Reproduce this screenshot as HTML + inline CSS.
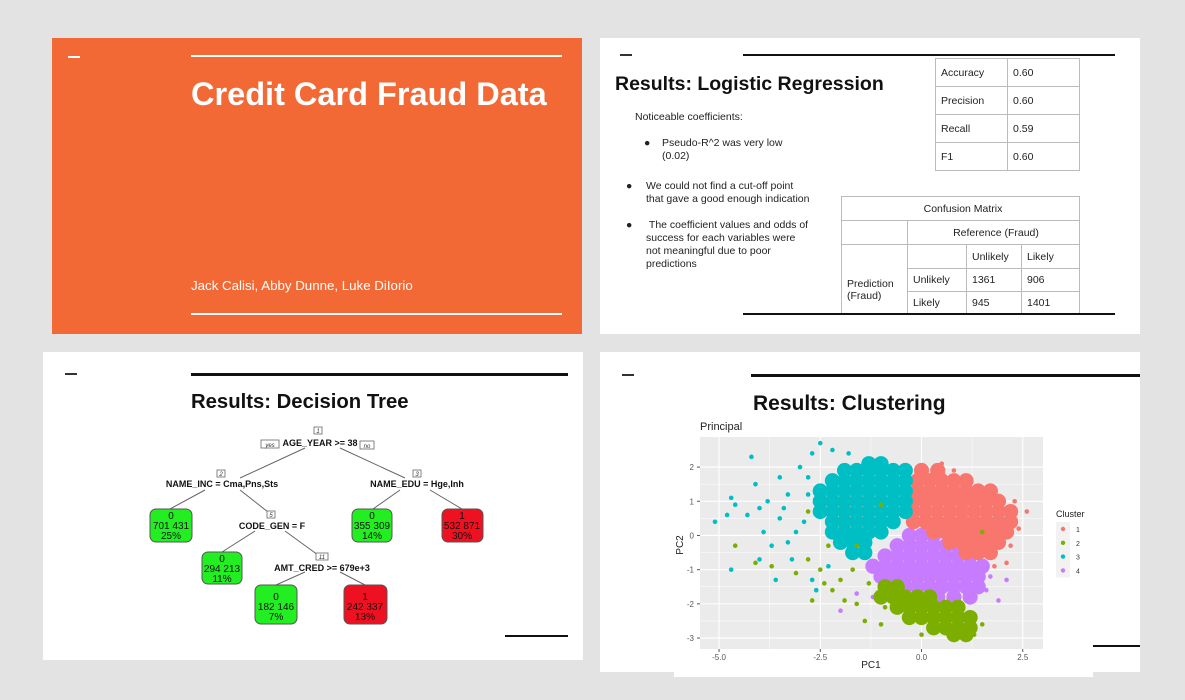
<!DOCTYPE html>
<html><head><meta charset="utf-8">
<style>
body{margin:0;width:1185px;height:700px;background:#e3e3e3;position:relative;overflow:hidden;font-family:"Liberation Sans",sans-serif}
.abs{position:absolute}
.slide{position:absolute;background:#fff}
.t{position:absolute;white-space:nowrap}
.b{position:absolute;font-size:10.5px;color:#222;line-height:13px;white-space:nowrap}
.b span{position:absolute;left:0;top:0}
table{border-collapse:collapse;position:absolute;font-size:10.5px;color:#222}
td{border:1px solid #bbb;padding:0 0 0 5px}
</style></head><body>
<div class="slide" style="left:52px;top:38px;width:530px;height:296px;background:#f26935">
  <div class="abs" style="left:16px;top:18px;width:12px;height:2px;background:#fff"></div>
  <div class="abs" style="left:139px;top:17px;width:371px;height:2px;background:#fff"></div>
  <div class="t" style="left:139px;top:38px;font-size:32.5px;font-weight:bold;color:#fff">Credit Card Fraud Data</div>
  <div class="t" style="left:139px;top:240px;font-size:13.3px;color:#fff">Jack Calisi, Abby Dunne, Luke DiIorio</div>
  <div class="abs" style="left:139px;top:275px;width:371px;height:2px;background:#fff"></div>
</div>
<div class="slide" style="left:600px;top:38px;width:540px;height:296px">
  <div class="abs" style="left:20px;top:16px;width:12px;height:2px;background:#333"></div>
  <div class="abs" style="left:143px;top:16px;width:372px;height:2px;background:#111"></div>
  <div class="t" style="left:15px;top:35px;font-size:19.5px;font-weight:bold;color:#111">Results: Logistic Regression</div>
  <div class="t" style="left:35px;top:73px;font-size:10.5px;color:#222">Noticeable coefficients:</div>
  <div class="b" style="left:44px;top:99px;padding-left:18px"><span>●</span>Pseudo-R^2 was very low<br>(0.02)</div>
  <div class="b" style="left:26px;top:142px;padding-left:20px"><span>●</span>We could not find a cut-off point<br>that gave a good enough indication</div>
  <div class="b" style="left:26px;top:181px;padding-left:20px"><span>●</span>&nbsp;The coefficient values and odds of<br>success for each variables were<br>not meaningful due to poor<br>predictions</div>
  <table style="left:335px;top:20px;width:145px">
    <tr style="height:28px"><td style="width:66px">Accuracy</td><td>0.60</td></tr>
    <tr style="height:28px"><td>Precision</td><td>0.60</td></tr>
    <tr style="height:28px"><td>Recall</td><td>0.59</td></tr>
    <tr style="height:28px"><td>F1</td><td>0.60</td></tr>
  </table>
  <table style="left:241px;top:158px;width:239px">
    <tr style="height:24px"><td colspan="4" style="text-align:center">Confusion Matrix</td></tr>
    <tr style="height:24px"><td style="width:60px"></td><td colspan="3" style="text-align:center">Reference (Fraud)</td></tr>
    <tr style="height:24px"><td rowspan="3" style="padding-top:20px">Prediction<br>(Fraud)</td><td style="width:53px"></td><td style="width:49px">Unlikely</td><td>Likely</td></tr>
    <tr style="height:23px"><td>Unlikely</td><td>1361</td><td>906</td></tr>
    <tr style="height:23px"><td>Likely</td><td>945</td><td>1401</td></tr>
  </table>
  <div class="abs" style="left:143px;top:275px;width:372px;height:2px;background:#111"></div>
</div>
<div class="slide" style="left:43px;top:352px;width:540px;height:308px">
  <div class="abs" style="left:22px;top:21px;width:12px;height:2px;background:#333"></div>
  <div class="abs" style="left:148px;top:21px;width:377px;height:3px;background:#111"></div>
  <div class="t" style="left:148px;top:39px;font-size:20.3px;font-weight:bold;color:#111">Results: Decision Tree</div>
  <div class="abs" style="left:462px;top:283px;width:63px;height:2px;background:#111"></div>
</div>
<svg class="abs" style="left:0;top:0" width="1185" height="700" font-family="Liberation Sans, sans-serif">
 <g stroke="#666" stroke-width="1">
  <line x1="305" y1="448" x2="240" y2="478"/><line x1="340" y1="448" x2="405" y2="478"/>
  <line x1="205" y1="490" x2="170" y2="509"/><line x1="240" y1="490" x2="268" y2="512"/>
  <line x1="400" y1="490" x2="373" y2="509"/><line x1="430" y1="490" x2="462" y2="509"/>
  <line x1="255" y1="531" x2="222" y2="552"/><line x1="285" y1="531" x2="318" y2="555"/>
  <line x1="305" y1="572" x2="276" y2="585"/><line x1="340" y1="572" x2="365" y2="585"/>
 </g>
 <g font-size="9" font-weight="bold" fill="#111" text-anchor="middle">
  <text x="320" y="446">AGE_YEAR &gt;= 38</text>
  <text x="222" y="487">NAME_INC = Cma,Pns,Sts</text>
  <text x="417" y="487">NAME_EDU = Hge,Inh</text>
  <text x="272" y="529">CODE_GEN = F</text>
  <text x="322" y="571">AMT_CRED &gt;= 679e+3</text>
 </g>
 <g font-size="6" font-style="italic" fill="#333" text-anchor="middle" stroke-width="0.8">
  <rect x="314" y="427" width="8" height="7" fill="#fff" stroke="#666"/><text x="318" y="433">1</text>
  <rect x="261" y="440" width="18" height="8" fill="#fff" stroke="#666"/><text x="270" y="447">yes</text>
  <rect x="360" y="441" width="14" height="8" fill="#fff" stroke="#666"/><text x="367" y="448">no</text>
  <rect x="217" y="470" width="8" height="7" fill="#fff" stroke="#666"/><text x="221" y="476">2</text>
  <rect x="413" y="470" width="8" height="7" fill="#fff" stroke="#666"/><text x="417" y="476">3</text>
  <rect x="267" y="511" width="8" height="7" fill="#fff" stroke="#666"/><text x="271" y="517">5</text>
  <rect x="316" y="553" width="12" height="7" fill="#fff" stroke="#666"/><text x="322" y="559">11</text>
 </g>
 <g font-size="10" text-anchor="middle" fill="#111">
  <g><rect x="150" y="509" width="42" height="33" rx="6" fill="#22ee22" stroke="#555"/><text x="171" y="519">0</text><text x="171" y="529">701 431</text><text x="171" y="539">25%</text></g>
  <g><rect x="352" y="509" width="40" height="33" rx="6" fill="#22ee22" stroke="#555"/><text x="372" y="519">0</text><text x="372" y="529">355 309</text><text x="372" y="539">14%</text></g>
  <g><rect x="442" y="509" width="41" height="33" rx="6" fill="#ee1122" stroke="#555"/><text x="462" y="519">1</text><text x="462" y="529">532 871</text><text x="462" y="539">30%</text></g>
  <g><rect x="202" y="552" width="40" height="32" rx="6" fill="#22ee22" stroke="#555"/><text x="222" y="562">0</text><text x="222" y="572">294 213</text><text x="222" y="582">11%</text></g>
  <g><rect x="255" y="585" width="42" height="39" rx="6" fill="#22ee22" stroke="#555"/><text x="276" y="600">0</text><text x="276" y="610">182 146</text><text x="276" y="620">7%</text></g>
  <g><rect x="344" y="585" width="43" height="39" rx="6" fill="#ee1122" stroke="#555"/><text x="365" y="600">1</text><text x="365" y="610">242 337</text><text x="365" y="620">13%</text></g>
 </g>
</svg>
<div class="slide" style="left:600px;top:352px;width:540px;height:320px">
  <div class="abs" style="left:22px;top:22px;width:12px;height:2px;background:#333"></div>
  <div class="abs" style="left:151px;top:22px;width:389px;height:3px;background:#111"></div>
  <div class="abs" style="left:490px;top:293px;width:50px;height:2px;background:#111"></div>
</div>
<div class="abs" style="left:674px;top:412px;width:419px;height:265px;background:#fff"></div>
<div class="t" style="left:753px;top:392px;font-size:21px;font-weight:bold;color:#111">Results: Clustering</div>
<svg id="scatter" class="abs" style="left:0;top:0" width="1185" height="700" font-family="Liberation Sans, sans-serif"></svg>
<script>
const xTicks=[-5,-2.5,0,2.5];
const yTicks=[-3,-2,-1,0,1,2];
const clusterNames=["1","2","3","4"];
const clusterColors=["#F8766D","#7CAE00","#00BFC4","#C77CFF"];
// dense core rows: [pc2, pc1, pc1, ...]
const cluster1Core=[[1.9,0.0,0.4],[1.6,-0.1,0.2,0.5,0.8,1.1],[1.3,-0.1,0.2,0.5,0.8,1.1,1.4,1.7],[1.0,-0.2,0.1,0.4,0.7,1.0,1.3,1.6,1.9],[0.7,-0.2,0.1,0.4,0.7,1.0,1.3,1.6,1.9,2.2],[0.4,-0.2,0.1,0.4,0.7,1.0,1.3,1.6,1.9,2.2],[0.1,0.3,0.6,0.9,1.2,1.5,1.8,2.1],[-0.2,0.7,1.0,1.3,1.6,1.9],[-0.5,1.1,1.4,1.7]];
const cluster2Core=[[-1.5,-0.9,-0.6],[-1.8,-1.0,-0.7,-0.4,-0.1,0.2],[-2.1,-0.6,-0.3,0.0,0.3,0.6,0.9],[-2.4,-0.3,0.0,0.3,0.6,0.9,1.2],[-2.7,0.3,0.6,0.9,1.2],[-2.9,0.8,1.1]];
const cluster3Core=[[2.1,-1.3,-1.0],[1.9,-1.9,-1.6,-1.3,-1.0,-0.7,-0.4],[1.6,-2.2,-1.9,-1.6,-1.3,-1.0,-0.7,-0.4],[1.3,-2.5,-2.2,-1.9,-1.6,-1.3,-1.0,-0.7,-0.4],[1.0,-2.5,-2.2,-1.9,-1.6,-1.3,-1.0,-0.7,-0.4],[0.7,-2.5,-2.2,-1.9,-1.6,-1.3,-1.0,-0.7,-0.4],[0.4,-2.2,-1.9,-1.6,-1.3,-1.0,-0.7],[0.1,-2.2,-1.9,-1.6,-1.3,-1.0],[-0.2,-2.0,-1.7,-1.4],[-0.5,-1.7,-1.4]];
const cluster4Core=[[0.0,-0.3,0.0,0.3],[-0.3,-0.6,-0.3,0.0,0.3,0.6,0.9],[-0.6,-0.9,-0.6,-0.3,0.0,0.3,0.6,0.9,1.2],[-0.9,-1.2,-0.9,-0.6,-0.3,0.0,0.3,0.6,0.9,1.2,1.5],[-1.2,-1.0,-0.7,-0.4,-0.1,0.2,0.5,0.8,1.1,1.4],[-1.5,-0.4,-0.1,0.2,0.5,0.8,1.1,1.4],[-1.8,0.4,0.8,1.2]];
// sparse outliers: [pc1, pc2]
const cluster1Out=[[2.6,0.7],[2.4,0.2],[0.5,2.1],[2.1,-0.8],[2.3,1.0],[0.8,1.9],[1.8,-0.9],[2.2,-0.3]];
const cluster2Out=[[-4.6,-0.3],[-4.1,-0.8],[-3.7,-0.9],[-3.1,-1.1],[-2.8,-0.7],[-2.5,-1.0],[-1.7,-1.0],[-2.4,-1.4],[-2.2,-1.6],[-2.0,-1.3],[-2.7,-1.9],[-1.9,-1.9],[-1.6,-0.3],[-2.3,-0.3],[-1.4,-2.5],[-1.0,-2.6],[1.5,0.1],[-1.0,0.9],[-2.8,0.7],[-0.9,-2.1],[-1.6,-2.0],[-1.3,-1.4],[1.5,-2.6],[0.0,-2.9],[1.3,-2.9]];
const cluster3Out=[[-5.1,0.4],[-4.8,0.6],[-4.3,0.6],[-4.7,1.1],[-4.6,0.9],[-4.2,2.3],[-4.1,1.5],[-4.0,0.8],[-3.9,0.1],[-3.1,0.1],[-3.8,1.0],[-3.7,-0.3],[-3.5,1.7],[-2.8,1.7],[-3.5,0.5],[-3.3,1.2],[-3.3,-0.2],[-3.0,2.0],[-4.0,-0.7],[-3.2,-0.7],[-4.7,-1.0],[-3.6,-1.3],[-2.7,2.4],[-2.5,2.7],[-2.6,-1.6],[-2.2,2.5],[-1.8,2.4],[-3.4,0.8],[-2.8,1.2],[-2.9,0.4],[-2.7,-1.3],[-2.3,-0.9]];
const cluster4Out=[[2.1,-1.3],[1.9,-1.9],[-2.0,-2.2],[-1.6,-1.7],[1.7,-1.2],[1.6,-1.6],[-1.2,-1.8]];
const clusterCore=[cluster1Core,cluster2Core,cluster3Core,cluster4Core];
const clusterOut=[cluster1Out,cluster2Out,cluster3Out,cluster4Out];
const drawOrder=[3,0,2,1];

const svg=document.getElementById('scatter');
const NS='http://www.w3.org/2000/svg';
const P={l:700,r:1043,t:437,b:649};
const xMin=-5.47,xMax=3.0,yMin=-3.32,yMax=2.88;
const sx=v=>P.l+(v-xMin)/(xMax-xMin)*(P.r-P.l);
const sy=v=>P.b-(v-yMin)/(yMax-yMin)*(P.b-P.t);
function mk(tag,attrs,parent){const e=document.createElementNS(NS,tag);for(const k in attrs)e.setAttribute(k,attrs[k]);(parent||svg).appendChild(e);return e;}
const panel=mk('rect',{x:P.l,y:P.t,width:P.r-P.l,height:P.b-P.t,fill:'#EBEBEB'});


for(let i=0;i<xTicks.length-1;i++){const m=(xTicks[i]+xTicks[i+1])/2;mk('line',{x1:sx(m),x2:sx(m),y1:P.t,y2:P.b,stroke:'#fff','stroke-width':0.5});}
for(let i=0;i<yTicks.length-1;i++){const m=(yTicks[i]+yTicks[i+1])/2;mk('line',{y1:sy(m),y2:sy(m),x1:P.l,x2:P.r,stroke:'#fff','stroke-width':0.5});}
xTicks.forEach(v=>{mk('line',{x1:sx(v),x2:sx(v),y1:P.t,y2:P.b,stroke:'#fff','stroke-width':1.1});
 mk('line',{x1:sx(v),x2:sx(v),y1:P.b,y2:P.b+3,stroke:'#555'});
 const t=mk('text',{x:sx(v),y:P.b+11,'font-size':8,'text-anchor':'middle',fill:'#555'});t.textContent=v.toFixed(1);
 
 });
yTicks.forEach(v=>{mk('line',{y1:sy(v),y2:sy(v),x1:P.l,x2:P.r,stroke:'#fff','stroke-width':1.1});
 mk('line',{y1:sy(v),y2:sy(v),x1:P.l-3,x2:P.l,stroke:'#555'});
 const t=mk('text',{x:P.l-6,y:sy(v)+3,'font-size':8,'text-anchor':'end',fill:'#555'});t.textContent=v;
 
 });
drawOrder.forEach(ci=>{
 const g=mk('g',{fill:clusterColors[ci]});
 
 
 clusterCore[ci].forEach(row=>{for(let j=1;j<row.length;j++){
  const c=mk('circle',{cx:sx(row[j]),cy:sy(row[0]),r:7.6},g);
  
  }});
 clusterOut[ci].forEach(p=>{
  const c=mk('circle',{cx:sx(p[0]),cy:sy(p[1]),r:2.3},g);
  
  });
});
const tt=mk('text',{x:700,y:430,'font-size':11,fill:'#222'});tt.textContent='Principal';


const xl=mk('text',{x:871,y:668,'font-size':10,'text-anchor':'middle',fill:'#222'});xl.textContent='PC1';


const yl=mk('text',{x:0,y:0,'font-size':10,'text-anchor':'middle',fill:'#222',transform:'translate(683,545) rotate(-90)'});yl.textContent='PC2';


const lt=mk('text',{x:1056,y:517,'font-size':9,fill:'#222'});lt.textContent='Cluster';


clusterNames.forEach((n,i)=>{const y=529+i*13.8;
 const g=mk('g',{});
 
 
 mk('rect',{x:1056,y:y-7,width:14,height:14,fill:'#F2F2F2'},g);
 mk('circle',{cx:1063,cy:y,r:2.2,fill:clusterColors[i]},g);
 const t=mk('text',{x:1076,y:y+3,'font-size':7,fill:'#333'},g);t.textContent=n;});
</script>
</body></html>
